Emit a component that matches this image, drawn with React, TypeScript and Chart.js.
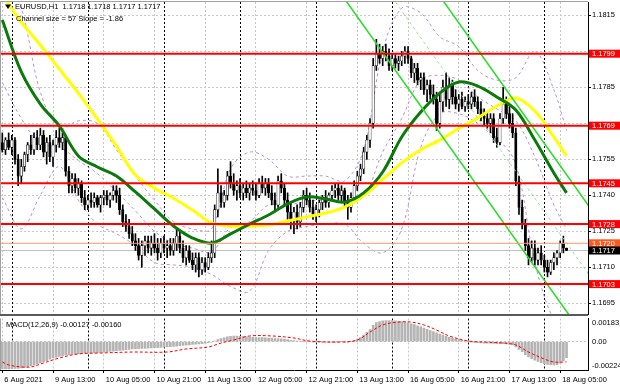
import React, { useEffect, useRef } from 'react';
import { Chart, registerables } from 'chart.js';

Chart.register(...registerables);

const FONT = '"Liberation Sans", Arial, sans-serif';

// ---------------- data ----------------
const timeLabelIdx = [0, 16, 32, 48, 64, 80, 96, 112, 128, 144, 160, 176];
const timeLabels = ['6 Aug 2021', '9 Aug 13:00', '10 Aug 05:00', '10 Aug 21:00', '11 Aug 13:00', '12 Aug 05:00', '12 Aug 21:00', '13 Aug 13:00', '16 Aug 05:00', '16 Aug 21:00', '17 Aug 13:00', '18 Aug 05:00'];
const daySeparatorIdx = [3, 27, 51, 75, 99, 123, 147, 171];

const firstOpen = 1.1762;
const closes = [
  1.1759, 1.1763, 1.1760, 1.1763, 1.1755, 1.1748, 1.1752, 1.1757, 1.1761, 1.1759,
  1.1764, 1.1761, 1.1765, 1.1758, 1.1762, 1.1756, 1.1761, 1.1764, 1.1762, 1.1764,
  1.1750, 1.1744, 1.1747, 1.1743, 1.1745, 1.1739, 1.1736, 1.1738, 1.1737, 1.1739,
  1.1736, 1.1739, 1.1740, 1.1738, 1.1740, 1.1742, 1.1740, 1.1734, 1.1729, 1.1727,
  1.1724, 1.1721, 1.1719, 1.1715, 1.1719, 1.1721, 1.1718, 1.1720, 1.1718, 1.1716,
  1.1720, 1.1718, 1.1719, 1.1717, 1.1720, 1.1723, 1.1718, 1.1714, 1.1717, 1.1713,
  1.1711, 1.1714, 1.1709, 1.1712, 1.1710, 1.1714, 1.1716, 1.1734, 1.1741, 1.1737,
  1.1740, 1.1748, 1.1745, 1.1742, 1.1744, 1.1741, 1.1743, 1.1741, 1.1743, 1.1742,
  1.1740, 1.1745, 1.1743, 1.1745, 1.1741, 1.1738, 1.1736, 1.1746, 1.1743, 1.1738,
  1.1733, 1.1730, 1.1733, 1.1729, 1.1735, 1.1740, 1.1738, 1.1735, 1.1732, 1.1734,
  1.1737, 1.1739, 1.1737, 1.1740, 1.1742, 1.1743, 1.1740, 1.1742, 1.1737, 1.1735,
  1.1739, 1.1744, 1.1748, 1.1751, 1.1758, 1.1763, 1.1770, 1.1794, 1.1799, 1.1797,
  1.1800, 1.1798, 1.1794, 1.1797, 1.1795, 1.1796, 1.1798, 1.1800, 1.1797, 1.1791,
  1.1793, 1.1788, 1.1789, 1.1784, 1.1786, 1.1782, 1.1780, 1.1770, 1.1779, 1.1785,
  1.1780, 1.1786, 1.1781, 1.1778, 1.1780, 1.1777, 1.1779, 1.1778, 1.1781, 1.1779,
  1.1776, 1.1773, 1.1772, 1.1770, 1.1772, 1.1764, 1.1762, 1.1772, 1.1778, 1.1774,
  1.1770, 1.1766, 1.1746, 1.1735, 1.1728, 1.1719, 1.1714, 1.1718, 1.1713, 1.1716,
  1.1713, 1.1710, 1.1708, 1.1712, 1.1714, 1.1716, 1.1720, 1.1718, 1.1717,
];
const highs = [
  1.1766, 1.1764, 1.1766, 1.1765, 1.1764, 1.1757, 1.1755, 1.1758, 1.1762, 1.1765,
  1.1766, 1.1767, 1.1768, 1.1767, 1.1764, 1.1765, 1.1763, 1.1767, 1.1768, 1.1766,
  1.1765, 1.1752, 1.1749, 1.1749, 1.1747, 1.1746, 1.1742, 1.1740, 1.1741, 1.1741,
  1.1740, 1.1740, 1.1742, 1.1742, 1.1741, 1.1744, 1.1744, 1.1743, 1.1736, 1.1732,
  1.1730, 1.1727, 1.1724, 1.1722, 1.1721, 1.1723, 1.1723, 1.1723, 1.1724, 1.1722,
  1.1722, 1.1723, 1.1721, 1.1722, 1.1722, 1.1726, 1.1725, 1.1721, 1.1719, 1.1719,
  1.1716, 1.1716, 1.1716, 1.1714, 1.1714, 1.1716, 1.1721, 1.1736, 1.1751, 1.1744,
  1.1742, 1.1750, 1.1754, 1.1749, 1.1746, 1.1747, 1.1745, 1.1746, 1.1745, 1.1746,
  1.1745, 1.1747, 1.1748, 1.1747, 1.1747, 1.1744, 1.1741, 1.1748, 1.1749, 1.1745,
  1.1741, 1.1737, 1.1735, 1.1736, 1.1737, 1.1742, 1.1743, 1.1741, 1.1738, 1.1736,
  1.1738, 1.1740, 1.1742, 1.1741, 1.1744, 1.1745, 1.1745, 1.1744, 1.1743, 1.1740,
  1.1741, 1.1746, 1.1750, 1.1753, 1.1760, 1.1765, 1.1772, 1.1797, 1.1805, 1.1803,
  1.1802, 1.1803, 1.1801, 1.1799, 1.1799, 1.1798, 1.1800, 1.1802, 1.1802, 1.1798,
  1.1795, 1.1795, 1.1791, 1.1791, 1.1788, 1.1788, 1.1786, 1.1783, 1.1782, 1.1788,
  1.1791, 1.1789, 1.1788, 1.1784, 1.1782, 1.1783, 1.1781, 1.1782, 1.1783, 1.1784,
  1.1781, 1.1779, 1.1776, 1.1775, 1.1774, 1.1774, 1.1768, 1.1774, 1.1785, 1.1781,
  1.1777, 1.1774, 1.1768, 1.1748, 1.1738, 1.1730, 1.1722, 1.1721, 1.1721, 1.1718,
  1.1719, 1.1715, 1.1713, 1.1713, 1.1716, 1.1717, 1.1721, 1.1723, 1.1718,
];
const lows = [
  1.1758, 1.1757, 1.1759, 1.1757, 1.1753, 1.1744, 1.1745, 1.1750, 1.1754, 1.1757,
  1.1757, 1.1759, 1.1759, 1.1756, 1.1753, 1.1754, 1.1752, 1.1758, 1.1760, 1.1759,
  1.1748, 1.1741, 1.1741, 1.1741, 1.1740, 1.1737, 1.1734, 1.1734, 1.1735, 1.1735,
  1.1735, 1.1733, 1.1736, 1.1736, 1.1735, 1.1738, 1.1737, 1.1732, 1.1727, 1.1725,
  1.1722, 1.1719, 1.1717, 1.1713, 1.1710, 1.1715, 1.1716, 1.1715, 1.1716, 1.1713,
  1.1714, 1.1716, 1.1714, 1.1715, 1.1715, 1.1717, 1.1716, 1.1712, 1.1711, 1.1712,
  1.1709, 1.1708, 1.1706, 1.1707, 1.1708, 1.1709, 1.1712, 1.1714, 1.1731, 1.1735,
  1.1735, 1.1738, 1.1743, 1.1740, 1.1738, 1.1739, 1.1738, 1.1739, 1.1738, 1.1740,
  1.1738, 1.1739, 1.1741, 1.1740, 1.1739, 1.1736, 1.1734, 1.1735, 1.1741, 1.1736,
  1.1730, 1.1726, 1.1724, 1.1726, 1.1727, 1.1733, 1.1736, 1.1733, 1.1730, 1.1729,
  1.1731, 1.1734, 1.1735, 1.1735, 1.1738, 1.1739, 1.1738, 1.1737, 1.1735, 1.1730,
  1.1733, 1.1737, 1.1742, 1.1746, 1.1749, 1.1755, 1.1760, 1.1768, 1.1792, 1.1795,
  1.1794, 1.1796, 1.1792, 1.1792, 1.1793, 1.1792, 1.1794, 1.1795, 1.1795, 1.1789,
  1.1787, 1.1786, 1.1784, 1.1782, 1.1779, 1.1780, 1.1778, 1.1767, 1.1768, 1.1775,
  1.1777, 1.1776, 1.1778, 1.1776, 1.1775, 1.1776, 1.1775, 1.1776, 1.1776, 1.1777,
  1.1774, 1.1771, 1.1769, 1.1768, 1.1766, 1.1762, 1.1760, 1.1761, 1.1770, 1.1772,
  1.1768, 1.1764, 1.1744, 1.1732, 1.1726, 1.1717, 1.1711, 1.1712, 1.1711, 1.1711,
  1.1711, 1.1708, 1.1706, 1.1707, 1.1709, 1.1711, 1.1714, 1.1716, 1.1717,
];

// indicator lines, read at every 6th bar
const lineIdx = [0, 6, 12, 18, 24, 30, 36, 42, 48, 54, 60, 66, 72, 78, 84, 90, 96, 102, 108, 114, 120, 126, 132, 138, 144, 150, 156, 162, 168, 174, 178];
const maGreen = [1.1813, 1.17914, 1.1778, 1.17689, 1.17564, 1.17518, 1.1748, 1.17414, 1.17343, 1.17272, 1.17222, 1.17201, 1.17239, 1.1728, 1.17318, 1.17364, 1.17393, 1.17385, 1.17372, 1.1741, 1.17497, 1.17643, 1.17747, 1.17826, 1.17872, 1.17855, 1.1781, 1.17755, 1.1763, 1.17493, 1.1741];
const maYellow = [1.18235, 1.18122, 1.18026, 1.17926, 1.17826, 1.17718, 1.17605, 1.17485, 1.1743, 1.17388, 1.17339, 1.17285, 1.17272, 1.17272, 1.17276, 1.17293, 1.1731, 1.17326, 1.17351, 1.17399, 1.17466, 1.17535, 1.1759, 1.1763, 1.17678, 1.17722, 1.17772, 1.17805, 1.17751, 1.17643, 1.17564];
const bandUpper = [1.1835, 1.1818, 1.1783, 1.1768, 1.1771, 1.177, 1.1759, 1.1748, 1.1738, 1.1729, 1.1726, 1.1726, 1.1751, 1.1758, 1.1755, 1.1748, 1.1748, 1.1748, 1.1746, 1.1759, 1.18, 1.1818, 1.1816, 1.1806, 1.1802, 1.1792, 1.1788, 1.1789, 1.18, 1.1784, 1.1767];
const bandMiddle = [1.1787, 1.1772, 1.17615, 1.176, 1.17545, 1.1749, 1.17415, 1.17335, 1.1725, 1.172, 1.1718, 1.17165, 1.17265, 1.1729, 1.1736, 1.1736, 1.17375, 1.1738, 1.1737, 1.17395, 1.1758, 1.1772, 1.1788, 1.179, 1.1788, 1.1781, 1.1776, 1.1771, 1.1756, 1.1736, 1.1726];
const bandLower = [1.1739, 1.1726, 1.174, 1.1752, 1.1738, 1.1728, 1.1724, 1.1719, 1.1712, 1.1711, 1.171, 1.1707, 1.1702, 1.17, 1.1717, 1.1725, 1.1727, 1.1728, 1.1728, 1.172, 1.1716, 1.1726, 1.176, 1.1774, 1.1774, 1.177, 1.1764, 1.1753, 1.1712, 1.1688, 1.1685];

// regression channel (endpoints)
const channelIdx = [100, 185];
const channelUpper = [1.18937, 1.17356];
const channelMiddle = [1.18652, 1.17071];
const channelLower = [1.18367, 1.16786];

const levelPrices = [1.1799, 1.1769, 1.1745, 1.1728, 1.1703];
const markPrice = 1.172;
const bidPrice = 1.1717;
const priceTicks = [1.1695, 1.171, 1.1725, 1.174, 1.1755, 1.177, 1.1785, 1.18, 1.1815];

const macdHist = [
  -0.00216, -0.00216, -0.00215, -0.00213, -0.00212, -0.00211, -0.00208, -0.00203, -0.00197, -0.0019,
  -0.00184, -0.00176, -0.00168, -0.00161, -0.0015, -0.00139, -0.00129, -0.00122, -0.00117, -0.00111,
  -0.00105, -0.00102, -0.00099, -0.00097, -0.00094, -0.00093, -0.00091, -0.00089, -0.00089, -0.00088,
  -0.00087, -0.00086, -0.00083, -0.0008, -0.00077, -0.00075, -0.00071, -0.00069, -0.00067, -0.00063,
  -0.00061, -0.00058, -0.00057, -0.00055, -0.00054, -0.00053, -0.00052, -0.0005, -0.00048, -0.00047,
  -0.00045, -0.00044, -0.00042, -0.00039, -0.00037, -0.00035, -0.00032, -0.0003, -0.00027, -0.00025,
  -0.00022, -0.0002, -0.00018, -0.00015, -0.00012, -0.00008, -0.00005, 0.00005, 0.00016, 0.00024,
  0.0003, 0.00038, 0.00043, 0.00045, 0.00044, 0.00043, 0.0004, 0.00038, 0.00036, 0.00034,
  0.00033, 0.00033, 0.00032, 0.00031, 0.00029, 0.00028, 0.00025, 0.00025, 0.00023, 0.0002,
  0.00016, 0.00011, 0.00008, 0.00005, 0.00003, 0.00002, 0.00002, 0.0, -0.00002, -0.00003,
  -0.00003, -0.00003, -0.00003, -0.00003, -0.00002, -0.00001, -0.00001, 0.0, -0.00001, -0.00002,
  0.00002, 0.0001, 0.0002, 0.00032, 0.00052, 0.00073, 0.00095, 0.0013, 0.00151, 0.00159,
  0.00165, 0.00167, 0.00167, 0.00166, 0.00164, 0.00161, 0.00157, 0.00152, 0.00148, 0.00141,
  0.00134, 0.00126, 0.00118, 0.00108, 0.00098, 0.00088, 0.00079, 0.00069, 0.00059, 0.00051,
  0.00043, 0.00034, 0.00028, 0.00021, 0.00016, 0.0001, 0.00005, 0.0, -0.00003, -0.00007,
  -0.00008, -0.0001, -0.00011, -0.00012, -0.00012, -0.00013, -0.00015, -0.00016, -0.00016, -0.00018,
  -0.00021, -0.00026, -0.00042, -0.00061, -0.0008, -0.00102, -0.0012, -0.00135, -0.00146, -0.00157,
  -0.00166, -0.00173, -0.00179, -0.00182, -0.00184, -0.00182, -0.0017, -0.0015, -0.00127,
];
const signalIdx = [0, 2, 6, 9, 13, 18, 24, 31, 41, 52, 58, 65, 69, 73, 78, 85, 92, 97, 107, 112, 116, 120, 125, 129, 133, 137, 141, 147, 152, 158, 162, 166, 171, 174, 178];
const signalVals = [-0.00161, -0.00184, -0.002, -0.002, -0.00169, -0.00129, -0.00097, -0.0009, -0.00082, -0.00082, -0.00058, -0.00042, -0.00011, 0.00013, 0.00045, 0.00045, 0.00029, 0.00005, -0.00003, 0.00013, 0.00076, 0.00132, 0.00155, 0.00155, 0.00132, 0.00092, 0.00045, 0.00005, -0.00003, -0.00011, -0.00026, -0.00082, -0.00137, -0.00161, -0.0016];
const macdAxisValues = [0.00183, 0, -0.00224];
const macdAxisLabels = ['0.00183', '0.00', '-0.00224'];

const headerText = 'EURUSD,H1  1.1718 1.1718 1.1717 1.1717';
const channelText = 'Channel size = 57 Slope = -1.86';
const macdText = 'MACD(12,26,9) -0.00127 -0.00160';

// ---------------- layout constants ----------------
const X_MIN = -0.73;
const X_MAX = 184.77;
const P_MIN = 1.169054;
const P_MAX = 1.182054;
const M_MIN = -0.00224;
const M_MAX = 0.00183;
const GRID = '#c8c8c8';

const pts = (idx: number[], vals: number[]) => idx.map((x, k) => ({ x, y: vals[k] }));

const noPad = (s: any) => {
  s.paddingTop = 0;
  s.paddingBottom = 0;
  s.paddingLeft = 0;
  s.paddingRight = 0;
};

const separatorPlugin = {
  id: 'separators',
  beforeDatasetsDraw(chart: any) {
    const { ctx, chartArea: a, scales } = chart;
    ctx.save();
    ctx.strokeStyle = '#000';
    ctx.lineWidth = 1;
    ctx.setLineDash([2, 2]);
    daySeparatorIdx.forEach((i) => {
      const px = Math.round(scales.x.getPixelForValue(i)) + 0.5;
      ctx.beginPath();
      ctx.moveTo(px, a.top);
      ctx.lineTo(px, a.bottom);
      ctx.stroke();
    });
    ctx.restore();
  },
};

const mainOverlay = {
  id: 'mainOverlay',
  afterDraw(chart: any) {
    const { ctx, chartArea: a, scales } = chart;
    const y = scales.y;
    ctx.save();
    ctx.fillStyle = '#5a5a5a';
    ctx.fillRect(0, a.bottom, a.right, 2);
    ctx.fillStyle = '#a0a0a0';
    ctx.fillRect(0, a.top - 1, a.right, 1);
    ctx.fillRect(0, a.top, 1, a.bottom - a.top);
    ctx.font = `7.5px ${FONT}`;
    ctx.textBaseline = 'middle';
    ctx.textAlign = 'left';
    const box = (p: number, bg: string, fg: string) => {
      const py = y.getPixelForValue(p);
      ctx.fillStyle = bg;
      ctx.fillRect(a.right + 1, py - 4, 31, 8);
      ctx.fillStyle = fg;
      ctx.fillText(p.toFixed(4), a.right + 4, py + 0.5);
    };
    levelPrices.forEach((p) => box(p, '#ff0000', '#ffffff'));
    box(markPrice, '#ff5a1e', '#ffffff');
    box(bidPrice, '#000000', '#ffffff');
    // header
    ctx.fillStyle = '#000';
    ctx.beginPath();
    ctx.moveTo(5, 4.5);
    ctx.lineTo(11, 4.5);
    ctx.lineTo(8, 9);
    ctx.closePath();
    ctx.fill();
    ctx.fillText(headerText, 15, 7);
    ctx.fillText(channelText, 16, 18.5);
    ctx.restore();
  },
};

const macdOverlay = {
  id: 'macdOverlay',
  afterDraw(chart: any) {
    const { ctx, chartArea: a, scales } = chart;
    const y = scales.y;
    ctx.save();
    ctx.fillStyle = '#a0a0a0';
    ctx.fillRect(0, a.top, 1, a.bottom - a.top);
    ctx.font = `7.5px ${FONT}`;
    ctx.textBaseline = 'middle';
    ctx.textAlign = 'left';
    ctx.fillStyle = '#000';
    ctx.fillText(macdText, 6, 8.5);
    const offs = [4.5, 0, -4.5];
    macdAxisValues.forEach((v, k) => {
      ctx.fillText(macdAxisLabels[k], a.right + 4, y.getPixelForValue(v) + offs[k]);
    });
    ctx.restore();
  },
};

function mainConfig(): any {
  const opens = closes.map((c, i) => (i === 0 ? firstOpen : closes[i - 1]));
  const wickData = closes.map((_, i) => ({ x: i, y: [lows[i], highs[i]] }));
  const bodyData = closes.map((c, i) => {
    const lo = Math.min(c, opens[i]);
    let hi = Math.max(c, opens[i]);
    if (hi - lo < 0.00002) hi = lo + 0.00002;
    return { x: i, y: [lo, hi] };
  });
  const bodyFill = closes.map((c, i) => (c >= opens[i] ? '#ffffff' : '#000000'));
  const lineBase = { type: 'line', pointRadius: 0, fill: false, clip: 0, tension: 0.35 };
  const band = (vals: number[]) => ({ ...lineBase, data: pts(lineIdx, vals), borderColor: '#b98ee0', borderWidth: 1, borderDash: [3, 3], order: 12 });
  const flat = (p: number, color: string, w: number, order: number) => ({ ...lineBase, tension: 0, data: [{ x: X_MIN, y: p }, { x: X_MAX, y: p }], borderColor: color, borderWidth: w, order });
  return {
    type: 'bar',
    data: {
      datasets: [
        band(bandUpper),
        band(bandMiddle),
        band(bandLower),
        flat(bidPrice, '#c0c0c0', 1, 11),
        { type: 'bar', data: wickData, backgroundColor: '#000', barThickness: 1, grouped: false, clip: 0, order: 10 },
        { type: 'bar', data: bodyData, backgroundColor: bodyFill, borderColor: '#000', borderWidth: 0.6, borderSkipped: false, barThickness: 2.4, grouped: false, clip: 0, order: 9 },
        { ...lineBase, data: pts(lineIdx, maYellow), borderColor: '#ffff00', borderWidth: 3, order: 8 },
        { ...lineBase, data: pts(lineIdx, maGreen), borderColor: '#0b7a0b', borderWidth: 3, order: 7 },
        { ...lineBase, tension: 0, data: pts(channelIdx, channelUpper), borderColor: '#2edc2e', borderWidth: 1.6, order: 6 },
        { ...lineBase, tension: 0, data: pts(channelIdx, channelMiddle), borderColor: '#8ee88e', borderWidth: 1, borderDash: [3, 3], order: 6 },
        { ...lineBase, tension: 0, data: pts(channelIdx, channelLower), borderColor: '#2edc2e', borderWidth: 1.6, order: 6 },
        flat(markPrice, '#ff9a6a', 1, 4),
        ...levelPrices.map((p) => flat(p, '#ff0000', 2, 3)),
      ],
    },
    options: {
      responsive: false,
      animation: false,
      devicePixelRatio: 1,
      events: [],
      layout: { padding: { top: 2, bottom: 2, left: 0, right: 0 }, autoPadding: false },
      plugins: { legend: { display: false }, tooltip: { enabled: false } },
      scales: {
        x: {
          type: 'linear',
          min: X_MIN,
          max: X_MAX,
          offset: false,
          afterBuildTicks: (s: any) => { s.ticks = timeLabelIdx.map((v) => ({ value: v })); },
          afterFit: (s: any) => { s.height = 0; noPad(s); },
          ticks: { display: false },
          grid: { color: GRID, drawTicks: false, offset: false },
          border: { display: false, dash: [2, 2] },
        },
        y: {
          type: 'linear',
          position: 'right',
          min: P_MIN,
          max: P_MAX,
          afterBuildTicks: (s: any) => { s.ticks = priceTicks.map((v) => ({ value: v })); },
          afterFit: (s: any) => { s.width = 32; noPad(s); },
          ticks: {
            padding: 1,
            color: '#000',
            font: { family: FONT, size: 7.5 },
            callback: (v: any) => (levelPrices.some((l) => Math.abs(l - v) < 0.00015) ? '' : Number(v).toFixed(4)),
          },
          grid: { color: GRID, tickLength: 3, tickColor: '#000' },
          border: { display: true, color: '#000', dash: [2, 2] },
        },
      },
    },
    plugins: [separatorPlugin, mainOverlay],
  };
}

function macdConfig(): any {
  return {
    type: 'bar',
    data: {
      datasets: [
        { type: 'bar', data: macdHist.map((v, i) => ({ x: i, y: v })), backgroundColor: '#b4b4b4', barThickness: 2, grouped: false, clip: 0, order: 2 },
        { type: 'line', data: pts(signalIdx, signalVals), borderColor: '#ff0000', borderWidth: 1, borderDash: [3, 2], pointRadius: 0, tension: 0.35, fill: false, clip: 0, order: 1 },
      ],
    },
    options: {
      responsive: false,
      animation: false,
      devicePixelRatio: 1,
      events: [],
      layout: { padding: { top: 2.5, bottom: 0, left: 0, right: 0 }, autoPadding: false },
      plugins: { legend: { display: false }, tooltip: { enabled: false } },
      scales: {
        x: {
          type: 'linear',
          min: X_MIN,
          max: X_MAX,
          offset: false,
          afterBuildTicks: (s: any) => { s.ticks = timeLabelIdx.map((v) => ({ value: v })); },
          afterFit: (s: any) => { s.height = 18; noPad(s); },
          ticks: {
            autoSkip: false,
            maxRotation: 0,
            minRotation: 0,
            align: 'start',
            labelOffset: 2,
            padding: 2,
            color: '#000',
            font: { family: FONT, size: 7.5 },
            callback: (_v: any, i: number) => timeLabels[i],
          },
          grid: { color: GRID, tickLength: 3, tickColor: '#000', offset: false },
          border: { display: true, color: '#000', dash: [2, 2] },
        },
        y: {
          type: 'linear',
          position: 'right',
          min: M_MIN,
          max: M_MAX,
          afterBuildTicks: (s: any) => { s.ticks = [{ value: 0 }]; },
          afterFit: (s: any) => { s.width = 32; noPad(s); },
          ticks: { display: false },
          grid: { color: GRID, drawTicks: false },
          border: { display: true, color: '#000', dash: [2, 2] },
        },
      },
    },
    plugins: [separatorPlugin, macdOverlay],
  };
}

export default function App() {
  const mainRef = useRef<HTMLCanvasElement>(null);
  const macdRef = useRef<HTMLCanvasElement>(null);
  useEffect(() => {
    const main = new Chart(mainRef.current as HTMLCanvasElement, mainConfig());
    const macd = new Chart(macdRef.current as HTMLCanvasElement, macdConfig());
    return () => {
      main.destroy();
      macd.destroy();
    };
  }, []);
  return (
    <div style={{ position: 'absolute', left: 0, top: 0, width: 620, height: 388, background: '#ffffff', overflow: 'hidden' }}>
      <canvas ref={mainRef} width={620} height={316} style={{ position: 'absolute', left: 0, top: 0 }} />
      <canvas ref={macdRef} width={620} height={72} style={{ position: 'absolute', left: 0, top: 316 }} />
    </div>
  );
}
